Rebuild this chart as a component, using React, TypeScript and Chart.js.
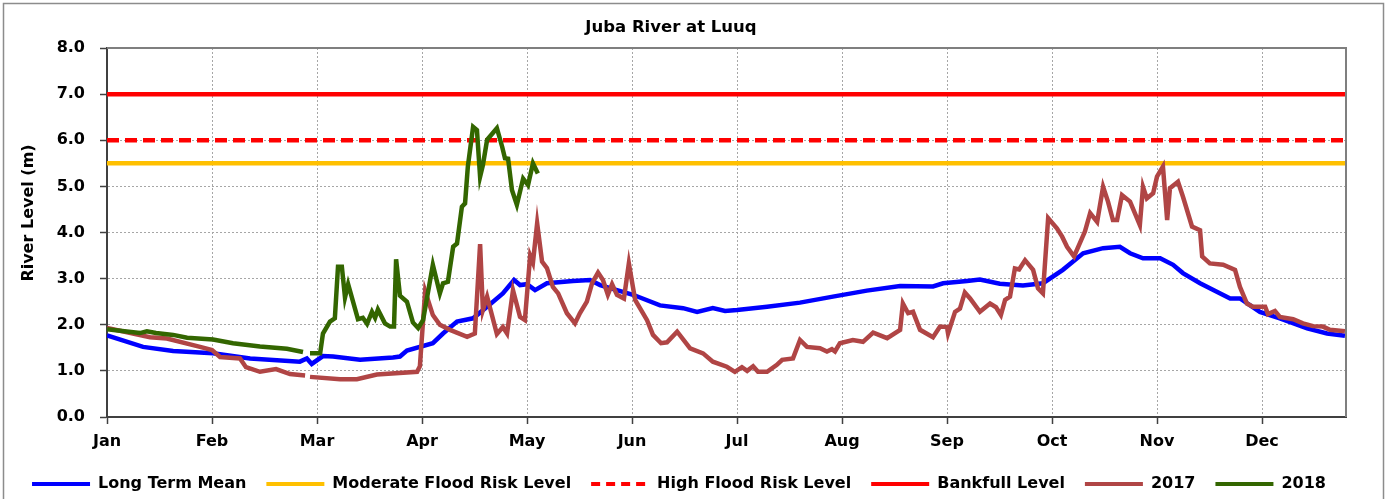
import React, { useEffect, useRef } from "react";
import { Chart, registerables } from "chart.js";

Chart.register(...registerables);

// ---- Axis / tick labels ----
const monthLabels = ["Jan", "Feb", "Mar", "Apr", "May", "Jun", "Jul", "Aug", "Sep", "Oct", "Nov", "Dec"];
const monthTickDays = [0, 30, 60, 90, 120, 150, 180, 210, 240, 270, 300, 330];
const dayMin = 0;
const dayMax = 354;
const yAxisTitle = "River Level (m)";
const chartTitle = "Juba River at Luuq";

// ---- Long Term Mean ----
const meanDays = [0, 10.3, 18.9, 30.3, 40.9, 55.1, 57.1, 58.5, 61.7, 64.6, 72.3, 81.7, 83.7, 85.7, 93.1, 96, 100, 104.6, 108.6, 113.1, 116.3, 118, 120, 122.3, 125.7, 133.1, 138, 140.9, 145.7, 150.3, 158, 164.6, 168.6, 173.1, 176.6, 180, 188.6, 198, 207.4, 217.1, 226.6, 236, 238.9, 245.7, 249.4, 255.1, 261.7, 267.4, 273.1, 278.9, 284.6, 289.4, 292.3, 296, 300.9, 304.6, 307.4, 312.3, 320.9, 323.7, 329.4, 335.1, 342.9, 348.6, 353.7];
const meanLevels = [1.77, 1.52, 1.43, 1.38, 1.27, 1.2, 1.27, 1.15, 1.32, 1.31, 1.24, 1.29, 1.31, 1.44, 1.6, 1.81, 2.07, 2.14, 2.39, 2.68, 2.97, 2.86, 2.88, 2.75, 2.9, 2.95, 2.97, 2.86, 2.75, 2.65, 2.42, 2.36, 2.28, 2.36, 2.3, 2.32, 2.39, 2.48, 2.61, 2.74, 2.84, 2.83, 2.9, 2.95, 2.98, 2.89, 2.85, 2.9, 3.19, 3.55, 3.66, 3.69, 3.55, 3.44, 3.44, 3.3, 3.12, 2.9, 2.57, 2.57, 2.28, 2.14, 1.92, 1.81, 1.76];

// ---- Threshold levels ----
const moderateFloodLevel = 5.5;
const highFloodLevel = 6.0;
const bankfullLevel = 7.0;

// ---- 2017 ----
const y2017Days = [0, 12.3, 17.1, 26.6, 30, 32.3, 38, 39.7, 43.7, 48.3, 52.3, 56.6, 57.3, 58, 66.6, 71.4, 77.1, 88.6, 89.4, 90.9, 93.1, 95.1, 98, 102.9, 105.1, 106.6, 107.4, 108.6, 111.4, 113.1, 114.3, 116, 118, 119.4, 120.9, 121.7, 122.9, 124.3, 125.7, 127.4, 128.9, 131.4, 133.7, 135.1, 137.1, 138.6, 140.3, 141.7, 143.1, 144.3, 145.7, 147.7, 149.1, 150.9, 154.3, 156, 158.3, 160, 162.9, 166.6, 170.3, 173.1, 177.1, 179.4, 181.4, 182.9, 184.6, 186, 188.6, 191.4, 192.9, 196, 198, 200, 203.7, 205.7, 207.1, 208, 209.4, 213.1, 216, 218.9, 222.9, 226.6, 227.4, 228.9, 230.3, 232.3, 236, 238, 240, 240.3, 242.3, 243.7, 245.1, 246.6, 249.4, 252.3, 254, 255.4, 256.6, 258, 259.4, 260.6, 262.3, 264.6, 266, 267.4, 268.9, 271.4, 272.9, 274.3, 276.3, 279.4, 280.9, 282.9, 284.6, 286, 287.4, 288.6, 290, 292.3, 295.1, 296, 297.1, 298.9, 300, 301.7, 302.9, 303.7, 306, 307.4, 310, 312.3, 312.9, 315.1, 318.9, 322.3, 323.7, 325.7, 327.4, 330.9, 331.7, 333.7, 335.1, 338.9, 341.7, 344.6, 347.4, 349.4, 353.7];
const y2017Levels = [1.93, 1.73, 1.7, 1.52, 1.45, 1.3, 1.27, 1.08, 0.98, 1.04, 0.93, 0.9, null, 0.87, 0.82, 0.82, 0.92, 0.98, 1.1, 2.73, 2.21, 2.0, 1.89, 1.74, 1.81, 3.75, 2.32, 2.61, 1.8, 1.95, 1.81, 2.75, 2.17, 2.1, 3.5, 3.35, 4.2, 3.37, 3.23, 2.82, 2.68, 2.25, 2.03, 2.25, 2.5, 2.9, 3.13, 2.97, 2.65, 2.88, 2.65, 2.57, 3.33, 2.54, 2.1, 1.78, 1.6, 1.62, 1.85, 1.49, 1.38, 1.2, 1.09, 0.98, 1.08, 1.0, 1.1, 0.98, 0.98, 1.13, 1.24, 1.27, 1.67, 1.52, 1.49, 1.42, 1.47, 1.42, 1.6, 1.67, 1.63, 1.83, 1.71, 1.89, 2.46, 2.25, 2.28, 1.89, 1.73, 1.96, 1.95, 1.81, 2.28, 2.35, 2.7, 2.57, 2.28, 2.46, 2.38, 2.21, 2.54, 2.61, 3.22, 3.2, 3.4, 3.19, 2.79, 2.68, 4.31, 4.09, 3.91, 3.69, 3.48, 4.02, 4.42, 4.23, 4.99, 4.67, 4.27, 4.27, 4.81, 4.67, 4.16, 4.99, 4.74, 4.85, 5.21, 5.43, 4.27, 4.96, 5.1, 4.78, 4.13, 4.05, 3.48, 3.33, 3.3, 3.19, 2.82, 2.46, 2.39, 2.39, 2.23, 2.3, 2.17, 2.12, 2.03, 1.97, 1.96, 1.89, 1.86];

// ---- 2018 ----
const y2018Days = [0, 5, 9.4, 11.4, 14, 18.9, 22.9, 30.3, 36, 43.7, 51.4, 56, 57, 58, 60.9, 61.7, 63.7, 65.1, 66, 67.1, 68, 68.9, 71.7, 73.1, 74.3, 75.7, 76.6, 77.4, 79.4, 80.9, 82, 82.6, 83.7, 85.7, 87.4, 88.9, 90.3, 93.1, 95.1, 96, 97.4, 98.9, 100, 101.4, 102.3, 103.1, 104.6, 105.7, 106.6, 107.4, 108.6, 111.4, 112.9, 113.7, 114.6, 115.7, 117.1, 118.9, 120.3, 121.7, 123.1];
const y2018Levels = [1.9, 1.86, 1.82, 1.86, 1.82, 1.78, 1.72, 1.68, 1.6, 1.53, 1.48, 1.41, null, 1.38, 1.38, 1.81, 2.07, 2.14, 3.26, 3.26, 2.59, 2.88, 2.12, 2.15, 2.02, 2.28, 2.15, 2.33, 2.03, 1.96, 1.96, 3.42, 2.63, 2.5, 2.05, 1.93, 2.1, 3.3, 2.68, 2.9, 2.93, 3.69, 3.76, 4.56, 4.63, 5.43, 6.29, 6.22, 5.21, 5.46, 6.01, 6.26, 5.86, 5.61, 5.6, 4.92, 4.6, 5.17, 5.03, 5.5, 5.28];

const toPoints = (xs: number[], ys: (number | null)[]) => xs.map((x, i) => ({ x, y: ys[i] }));
const flat = (v: number) => [{ x: dayMin, y: v }, { x: dayMax, y: v }];

const FONT = "'DejaVu Sans', 'Open Sans', sans-serif";

const framePlugin = {
  id: "frame",
  beforeDraw(chart: any) {
    const { ctx, width, height } = chart;
    ctx.save();
    ctx.fillStyle = "#ffffff";
    ctx.fillRect(0, 0, width, height);
    ctx.restore();
  },
  afterLayout(chart: any) {
    if (chart.legend) {
      chart.legend.top += 3;
      chart.legend.bottom += 3;
    }
  },
  afterDraw(chart: any) {
    const { ctx, chartArea } = chart;
    ctx.save();
    ctx.strokeStyle = "#7f7f7f";
    ctx.lineWidth = 2;
    ctx.beginPath();
    ctx.moveTo(chartArea.left, chartArea.top);
    ctx.lineTo(chartArea.right, chartArea.top);
    ctx.lineTo(chartArea.right, chartArea.bottom);
    ctx.stroke();
    ctx.strokeStyle = "#8c8c8c";
    ctx.lineWidth = 1.5;
    ctx.strokeRect(3.5, 3.5, 1380, 520);
    ctx.fillStyle = "#000000";
    ctx.font = `bold 16.5px ${FONT}`;
    ctx.textAlign = "center";
    ctx.textBaseline = "middle";
    ctx.fillText(chartTitle, 671, 28);
    // y-axis title
    ctx.translate(29, 213);
    ctx.rotate(-Math.PI / 2);
    ctx.font = `bold 16px ${FONT}`;
    ctx.fillText(yAxisTitle, 0, 0);
    ctx.restore();
  },
};

export default function App() {
  const canvasRef = useRef<HTMLCanvasElement | null>(null);

  useEffect(() => {
    if (!canvasRef.current) return;
    const common = { pointRadius: 0, pointHoverRadius: 0, pointBorderWidth: 4, fill: false, tension: 0, borderWidth: 4.5 };
    const chart = new Chart(canvasRef.current, {
      type: "line",
      data: {
        datasets: [
          { ...common, label: "Long Term Mean", data: toPoints(meanDays, meanLevels), borderColor: "#0000ff", backgroundColor: "#0000ff", order: 5 },
          { ...common, label: "Moderate Flood Risk Level", data: flat(moderateFloodLevel), borderColor: "#ffc000", backgroundColor: "#ffc000", order: 4 },
          { ...common, label: "High Flood Risk Level", data: flat(highFloodLevel), borderColor: "#ff0000", backgroundColor: "#ff0000", borderDash: [12, 6], order: 3 },
          { ...common, label: "Bankfull Level", data: flat(bankfullLevel), borderColor: "#ff0000", backgroundColor: "#ff0000", order: 2 },
          { ...common, label: "2017", data: toPoints(y2017Days, y2017Levels), borderColor: "#b04545", backgroundColor: "#b04545", order: 1 },
          { ...common, label: "2018", data: toPoints(y2018Days, y2018Levels), borderColor: "#336600", backgroundColor: "#336600", order: 0 },
        ] as any,
      },
      options: {
        responsive: false,
        animation: false,
        devicePixelRatio: 1,
        layout: { padding: { left: 12, right: 43, top: 48, bottom: 0 } },
        plugins: {
          title: { display: false },
          tooltip: { enabled: false },
          legend: {
            display: true,
            position: "bottom",
            labels: {
              usePointStyle: true,
              pointStyle: "line",
              pointStyleWidth: 58,
              padding: 20,
              color: "#000000",
              font: { family: FONT, size: 16, weight: "bold" },
              sort: (a: any, b: any) => a.datasetIndex - b.datasetIndex,
              generateLabels: (chart: any) => {
                const items = Chart.defaults.plugins.legend.labels.generateLabels(chart);
                return items.map((it: any) => {
                  const ds = chart.data.datasets[it.datasetIndex];
                  return { ...it, lineDash: ds.borderDash ? [9, 6] : [], lineWidth: 4, strokeStyle: ds.borderColor, fillStyle: ds.borderColor, pointStyle: "line" };
                });
              },
            },
          },
        },
        scales: {
          x: {
            type: "linear",
            min: dayMin,
            max: dayMax,
            afterBuildTicks: (scale: any) => {
              scale.ticks = monthTickDays.map((v) => ({ value: v }));
            },
            afterFit: (scale: any) => {
              const lh = scale.chart.legend ? scale.chart.legend.height : 46;
              scale.height = Math.max(20, 499 - lh - 417);
            },
            ticks: {
              autoSkip: false,
              maxRotation: 0,
              padding: 8,
              color: "#000000",
              font: { family: FONT, size: 16, weight: "bold" },
              callback: (v: any) => {
                const i = monthTickDays.indexOf(Number(v));
                return i >= 0 ? monthLabels[i] : "";
              },
            },
            grid: {
              display: true,
              color: "#a6a6a6",
              lineWidth: 1,
              drawTicks: true,
              tickLength: 7,
              tickColor: "#404040",
              tickWidth: 1.5,
              tickBorderDash: [],
            },
            border: { display: true, color: "#404040", width: 2, dash: [2, 2] },
          },
          y: {
            type: "linear",
            min: 0,
            max: 8,
            afterFit: (scale: any) => {
              scale.width = 95;
            },
            ticks: {
              stepSize: 1,
              padding: 15,
              color: "#000000",
              font: { family: FONT, size: 16, weight: "bold" },
              callback: (v: any) => Number(v).toFixed(1),
            },
            title: { display: false },
            grid: {
              display: true,
              color: "#a6a6a6",
              lineWidth: 1,
              drawTicks: true,
              tickLength: 7,
              tickColor: "#404040",
              tickWidth: 1.5,
              tickBorderDash: [],
            },
            border: { display: true, color: "#404040", width: 2, dash: [2, 2] },
          },
        },
      } as any,
      plugins: [framePlugin],
    });
    return () => chart.destroy();
  }, []);

  return (
    <div style={{ position: "absolute", left: 0, top: 0, width: 1389, height: 499, background: "#fff" }}>
      <canvas ref={canvasRef} width={1389} height={499} style={{ width: 1389, height: 499, display: "block" }} />
    </div>
  );
}
